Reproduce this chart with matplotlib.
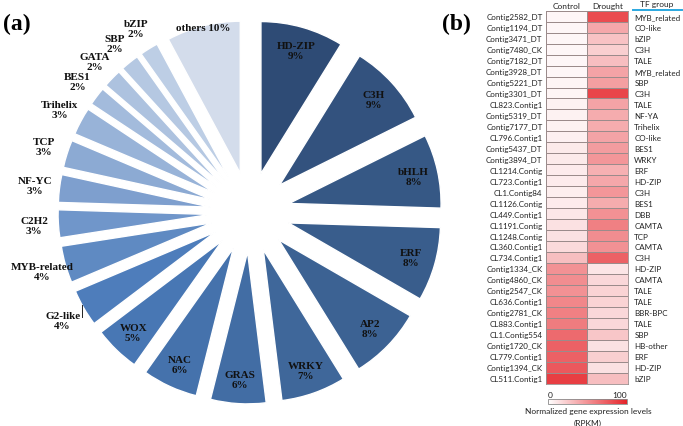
import numpy as np
import matplotlib.pyplot as plt
from matplotlib.colors import LinearSegmentedColormap, Normalize
from matplotlib.cm import ScalarMappable
from matplotlib.lines import Line2D

plt.rcParams['font.family'] = ['Lato', 'DejaVu Sans']

# ---- panel (a): TF families ----
tf_names = ['HD-ZIP', 'C3H', 'bHLH', 'ERF', 'AP2', 'WRKY', 'GRAS', 'NAC', 'WOX',
            'G2-like', 'MYB-related', 'C2H2', 'NF-YC', 'TCP', 'Trihelix', 'BES1',
            'GATA', 'SBP', 'bZIP', 'others']
tf_pct = [9, 9, 8, 8, 8, 7, 6, 6, 5, 4, 4, 3, 3, 3, 3, 2, 2, 2, 2, 10]
# slice sizes as drawn
tf_share = [9, 9, 8, 8, 8, 7, 6, 6, 5, 4, 4, 3, 3, 3, 3, 2, 2, 2, 2, 8]
pie_colors = ['#2e4b75', '#33527e', '#365885', '#395d8c', '#3c6293', '#3f679a',
              '#426da4', '#4572ac', '#4877b4', '#4e7dbb', '#5f8ac2', '#7096ca',
              '#7e9fce', '#8caad3', '#98b3d8', '#a3bbdc', '#adc2df', '#b5c8e2',
              '#bdcee5', '#d3dceb']

# ---- panel (b): heatmap ----
contigs = ['Contig2582_DT', 'Contig1194_DT', 'Contig3471_DT', 'Contig7480_CK',
           'Contig7182_DT', 'Contig3928_DT', 'Contig5221_DT', 'Contig3301_DT',
           'CL823.Contig1', 'Contig5319_DT', 'Contig7177_DT', 'CL796.Contig1',
           'Contig5437_DT', 'Contig3894_DT', 'CL1214.Contig', 'CL723.Contig1',
           'CL1.Contig84', 'CL1126.Contig', 'CL449.Contig1', 'CL1191.Contig',
           'CL1248.Contig', 'CL360.Contig1', 'CL734.Contig1', 'Contig1334_CK',
           'Contig4860_CK', 'Contig2547_CK', 'CL636.Contig1', 'Contig2781_CK',
           'CL883.Contig1', 'CL1.Contig554', 'Contig1720_CK', 'CL779.Contig1',
           'Contig1394_CK', 'CL511.Contig1']
tf_group = ['MYB_related', 'CO-like', 'bZIP', 'C3H', 'TALE', 'MYB_related', 'SBP',
            'C3H', 'TALE', 'NF-YA', 'Trihelix', 'CO-like', 'BES1', 'WRKY', 'ERF',
            'HD-ZIP', 'C3H', 'BES1', 'DBB', 'CAMTA', 'TCP', 'CAMTA', 'C3H', 'HD-ZIP',
            'CAMTA', 'TALE', 'TALE', 'BBR-BPC', 'TALE', 'SBP', 'HB-other', 'ERF',
            'HD-ZIP', 'bZIP']
control = [4, 4, 4, 4, 4, 4, 5, 5, 6, 6, 6, 7, 10, 10, 9, 9, 8, 9, 11, 14, 14, 17,
           30, 50, 52, 50, 55, 58, 60, 68, 72, 72, 76, 88]
drought = [82, 40, 28, 22, 30, 42, 44, 85, 42, 38, 38, 42, 45, 48, 36, 40, 48, 38,
           50, 58, 52, 50, 72, 12, 18, 20, 20, 18, 18, 26, 14, 22, 14, 30]

W, H = 683, 427
fig = plt.figure(figsize=(W / 100, H / 100), dpi=100)

# pie: 1 data unit = 152 px, centre at pixel (250, 213)
ax = fig.add_axes([0, 0, 450 / W, 1])
wedges, _ = ax.pie(tf_share, colors=pie_colors, startangle=90, counterclock=False,
                   explode=[0.263] * len(tf_share), radius=1,
                   wedgeprops=dict(edgecolor='white', linewidth=1.0))
ax.set_aspect('auto')
ax.set_xlim(-250 / 152, 200 / 152)
ax.set_ylim(-214 / 152, 213 / 152)
ax.axis('off')

serif = dict(family='Liberation Serif', fontweight='bold', fontsize=8,
             color='#111111', ha='center', va='center', linespacing=1.15)
for i, w in enumerate(wedges):
    mid = np.deg2rad((w.theta1 + w.theta2) / 2)
    cx, cy = w.center
    if tf_names[i] == 'others':
        d = 0.99
        txt = '%s %d%%' % (tf_names[i], tf_pct[i])
    else:
        d = 0.84 if i <= 8 else 1.16
        txt = '%s\n%d%%' % (tf_names[i], tf_pct[i])
    ax.text(cx + d * np.cos(mid), cy + d * np.sin(mid), txt, **serif)

# little leader line next to G2-like
fig.add_artist(Line2D([82 / W, 82 / W], [1 - 306 / H, 1 - 318 / H],
                      color='#222222', linewidth=0.7))

fig.text(17 / W, 1 - 24 / H, '(a)', family='Liberation Serif', fontweight='bold',
         fontsize=17, ha='center', va='center')
fig.text(456 / W, 1 - 24 / H, '(b)', family='Liberation Serif', fontweight='bold',
         fontsize=17, ha='center', va='center')

# heatmap
cmap = LinearSegmentedColormap.from_list('wr', ['#ffffff', '#e5242a'])
hx = fig.add_axes([546 / W, 42.5 / H, 82 / W, 372.7 / H])
vals = np.column_stack([control, drought])
hx.pcolormesh(vals, cmap=cmap, vmin=0, vmax=100, edgecolors='#9b8b8b', linewidth=0.6)
hx.set_ylim(len(contigs), 0)
hx.set_xlim(0, 2)
hx.set_xticks([0.5, 1.5], ['Control', 'Drought'])
hx.xaxis.tick_top()
hx.set_yticks(np.arange(len(contigs)) + 0.5, contigs)
hx.tick_params(length=0, labelsize=5.8, labelcolor='#222222', pad=2.5)
hx.tick_params(axis='x', pad=1.5, labelsize=6)
for s in hx.spines.values():
    s.set_color('#9b8b8b')
    s.set_linewidth(0.6)

sec = hx.secondary_yaxis('right')
sec.set_yticks(np.arange(len(contigs)) + 0.5, tf_group)
sec.tick_params(length=0, labelsize=5.8, labelcolor='#222222', pad=4.5)
sec.spines['right'].set_visible(False)

fig.text(657 / W, 1 - 4.5 / H, 'TF group', fontsize=6, color='#222222',
         ha='center', va='center')
fig.add_artist(Line2D([633 / W, 682 / W], [1 - 10.5 / H, 1 - 10.5 / H],
                      color='#2aa8e0', linewidth=1.4))

# colour bar
cax = fig.add_axes([548 / W, 22 / H, 79 / W, 5 / H])
cb = fig.colorbar(ScalarMappable(Normalize(0, 100), cmap), cax=cax,
                  orientation='horizontal')
cb.set_ticks([0, 100])
cax.xaxis.set_ticks_position('top')
cax.tick_params(length=0, labelsize=6, pad=1, labelcolor='#222222')
tl = cax.get_xticklabels()
tl[0].set_ha('left')
tl[1].set_ha('right')
cb.outline.set_edgecolor('#8a8a8a')
cb.outline.set_linewidth(0.6)
fig.text(588 / W, 1 - 412 / H, 'Normalized gene expression levels', fontsize=6,
         color='#222222', ha='center', va='center')
fig.text(588 / W, 1 - 423 / H, '(RPKM)', fontsize=6, color='#222222',
         ha='center', va='center')

fig.savefig('out.png', dpi=100)
